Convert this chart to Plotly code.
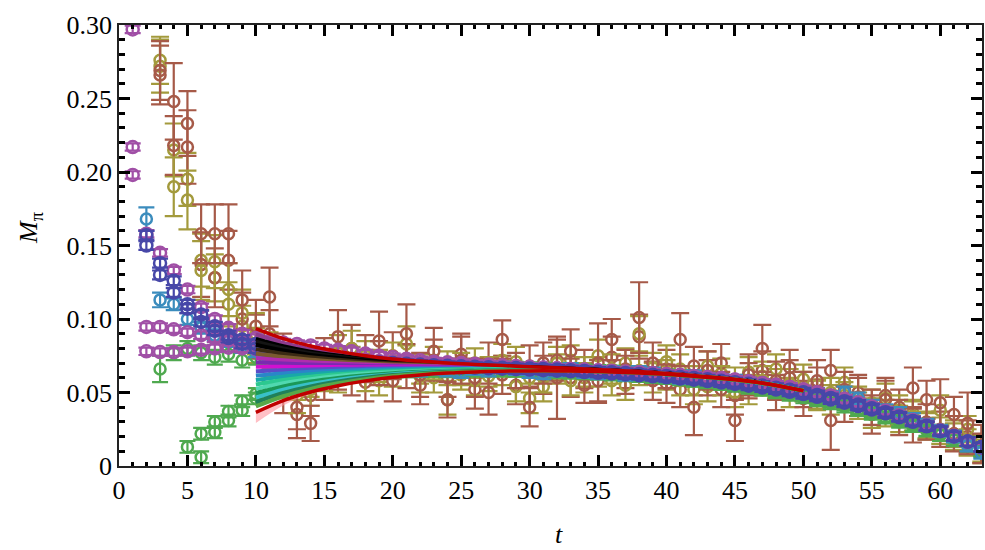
import plotly.graph_objects as go

# ---------------- effective mass data, M_pi(t) ----------------
# each series: first time slice, values, errors
mag_a_t0 = 1
mag_a_val = [0.297, 0.158, 0.145, 0.133, 0.120, 0.108, 0.100, 0.094, 0.090, 0.087,
             0.085, 0.084, 0.083, 0.082, 0.080, 0.079, 0.078, 0.0765, 0.075, 0.074,
             0.073, 0.072, 0.071, 0.0705, 0.070, 0.0695, 0.069, 0.0685, 0.068, 0.0675,
             0.067, 0.0665, 0.066, 0.0655, 0.065, 0.0645, 0.064, 0.0635, 0.063, 0.0624,
             0.0618, 0.0611, 0.0603, 0.0595, 0.0586, 0.0576, 0.0565, 0.0552, 0.0538, 0.0521,
             0.0502, 0.048, 0.0457, 0.0432, 0.0405, 0.0376, 0.0345, 0.0312, 0.0278, 0.0242,
             0.0205, 0.0166, 0.0127]
mag_a_err = 0.0025

mag_b_t0 = 1
mag_b_val = [0.217, 0.0946, 0.0946, 0.093, 0.091, 0.089, 0.087, 0.0855, 0.084, 0.082,
             0.080, 0.078, 0.0765, 0.075, 0.074, 0.073, 0.072, 0.0712, 0.0705, 0.070,
             0.0695, 0.069, 0.0688, 0.0685, 0.0682, 0.068, 0.0678, 0.0675, 0.0672, 0.067,
             0.0668, 0.0665, 0.066, 0.0656, 0.0652, 0.0648, 0.0643, 0.0638, 0.0632, 0.0626,
             0.062, 0.0613, 0.0605, 0.0598, 0.0588, 0.0577, 0.0565, 0.0552, 0.0537, 0.052,
             0.050, 0.0478, 0.0455, 0.043, 0.0403, 0.0374, 0.0343, 0.031, 0.0275, 0.024,
             0.0203, 0.0165, 0.0126]
mag_b_err = 0.0025

mag_c_t0 = 1
mag_c_val = [0.198, 0.078, 0.0775, 0.0775, 0.078, 0.079, 0.080, 0.0805, 0.080, 0.0795,
             0.079, 0.078, 0.077, 0.076, 0.075, 0.074, 0.073, 0.0722, 0.0715, 0.071,
             0.0705, 0.070, 0.0695, 0.069, 0.0686, 0.0682, 0.0678, 0.0674, 0.067, 0.0667,
             0.0664, 0.066, 0.0656, 0.0652, 0.0647, 0.0642, 0.0637, 0.0631, 0.0625, 0.0618,
             0.0611, 0.0603, 0.0595, 0.0586, 0.0576, 0.0565, 0.0553, 0.054, 0.0525, 0.0508,
             0.0489, 0.0468, 0.0446, 0.0422, 0.0396, 0.0368, 0.0338, 0.0306, 0.0273, 0.0238,
             0.0202, 0.0164, 0.0125]
mag_c_err = 0.0025

blue_a_t0 = 2
blue_a_val = [0.157, 0.138, 0.126, 0.110, 0.103, 0.095, 0.089, 0.086, 0.083,
              0.081, 0.079, 0.077, 0.0755, 0.074, 0.073, 0.072, 0.0712, 0.0705, 0.070,
              0.0695, 0.069, 0.0686, 0.0682, 0.0678, 0.0675, 0.0672, 0.0669, 0.0666, 0.0663,
              0.066, 0.0656, 0.0652, 0.0647, 0.0642, 0.0637, 0.0632, 0.0626, 0.062, 0.0613,
              0.0606, 0.0598, 0.059, 0.058, 0.057, 0.0559, 0.0547, 0.0533, 0.0518, 0.0501,
              0.0483, 0.0463, 0.0441, 0.0418, 0.0393, 0.0366, 0.0337, 0.0306, 0.0273, 0.0239,
              0.0203, 0.0166, 0.0128]
blue_a_err = 0.003

blue_b_t0 = 2
blue_b_val = [0.150, 0.130, 0.118, 0.107, 0.098, 0.092, 0.087, 0.083, 0.080,
              0.078, 0.076, 0.0745, 0.073, 0.072, 0.071, 0.0702, 0.0695, 0.069, 0.0686,
              0.0682, 0.0679, 0.0676, 0.0673, 0.067, 0.0668, 0.0665, 0.0662, 0.0659, 0.0656,
              0.0652, 0.0648, 0.0644, 0.0639, 0.0634, 0.0629, 0.0623, 0.0617, 0.061, 0.0603,
              0.0595, 0.0587, 0.0578, 0.0568, 0.0558, 0.0546, 0.0534, 0.052, 0.0505, 0.0489,
              0.0471, 0.0452, 0.0431, 0.0408, 0.0384, 0.0358, 0.0331, 0.0301, 0.027, 0.0237,
              0.0202, 0.0166, 0.0129]
blue_b_err = 0.003

teal_t0 = 2
teal_val = [0.168, 0.113, 0.110, 0.100, 0.094, 0.089, 0.085, 0.081, 0.078,
            0.076, 0.074, 0.072, 0.071, 0.070, 0.069, 0.068, 0.067, 0.067, 0.066,
            0.066, 0.065, 0.066, 0.065, 0.064, 0.066, 0.065, 0.067, 0.066, 0.064,
            0.063, 0.065, 0.066, 0.064, 0.063, 0.064, 0.062, 0.064, 0.063, 0.061,
            0.060, 0.061, 0.059, 0.058, 0.058, 0.056, 0.055, 0.053, 0.052, 0.050,
            0.049, 0.047, 0.050, 0.046, 0.041, 0.038, 0.036, 0.032, 0.028, 0.024,
            0.020, 0.014, 0.009]
teal_err = [0.008, 0.005] + [0.004] * 60

green_a_t0 = 3
green_a_val = [0.066, 0.077, 0.080, 0.077, 0.074, 0.076, 0.072, 0.074,
               0.071, 0.070, 0.069, 0.068, 0.068, 0.067, 0.0665, 0.066, 0.066, 0.0658,
               0.0655, 0.066, 0.0658, 0.0655, 0.0658, 0.066, 0.0662, 0.066, 0.0658, 0.0655,
               0.0652, 0.0648, 0.0645, 0.064, 0.0637, 0.0633, 0.0628, 0.0622, 0.0615, 0.0608,
               0.060, 0.0592, 0.0583, 0.0575, 0.0565, 0.0552, 0.054, 0.0525, 0.051, 0.0492,
               0.047, 0.045, 0.0428, 0.0403, 0.0378, 0.035, 0.032, 0.029, 0.0255, 0.022,
               0.0185, 0.015, 0.011]
green_a_err = [0.009] + [0.005] * 60

green_b_t0 = 5
green_b_val = [0.013, 0.022, 0.030, 0.037, 0.044, 0.049,
               0.053, 0.056, 0.058, 0.060, 0.0615, 0.0625, 0.063, 0.0635, 0.064, 0.0642,
               0.0645, 0.0647, 0.0648, 0.065, 0.065, 0.0651, 0.0651, 0.0651, 0.065, 0.0649,
               0.0647, 0.0644, 0.0641, 0.0637, 0.0632, 0.0627, 0.0621, 0.0614, 0.0607, 0.0599,
               0.059, 0.058, 0.057, 0.0558, 0.0546, 0.0533, 0.0518, 0.0502, 0.0485, 0.0467,
               0.0447, 0.0426, 0.0404, 0.038, 0.0355, 0.0329, 0.0301, 0.0272, 0.0242, 0.021,
               0.0177, 0.0143, 0.0108]
green_b_err = 0.004

green_c_t0 = 6
green_c_val = [0.006, 0.023, 0.031, 0.038, 0.046, 0.052, 0.055]
green_c_err = 0.004

brown_a_t0 = 3
brown_a_val = [0.269, 0.248, 0.233, 0.158, 0.158, 0.158, 0.113, 0.095, 0.115, 0.075,
               0.040, 0.029, 0.060, 0.088, 0.062, 0.073, 0.085, 0.058, 0.090, 0.062,
               0.078, 0.045, 0.072, 0.060, 0.050, 0.086, 0.065, 0.040, 0.070, 0.060,
               0.078, 0.055, 0.070, 0.086, 0.062, 0.101, 0.070, 0.056, 0.086, 0.040,
               0.065, 0.052, 0.031, 0.062, 0.080, 0.058, 0.067, 0.052, 0.058, 0.031,
               0.052, 0.047, 0.040, 0.045, 0.033, 0.053, 0.030, 0.043, 0.022, 0.029, 0.012]
brown_a_err = [0.020, 0.026, 0.022, 0.020, 0.020, 0.020, 0.020, 0.018, 0.020, 0.015,
               0.015, 0.012, 0.015, 0.018, 0.014, 0.016, 0.020, 0.014, 0.020, 0.015,
               0.016, 0.012, 0.016, 0.013, 0.015, 0.013, 0.012, 0.013, 0.014, 0.028,
               0.015, 0.012, 0.027, 0.014, 0.013, 0.024, 0.014, 0.013, 0.018, 0.019,
               0.013, 0.012, 0.014, 0.014, 0.016, 0.013, 0.012, 0.012, 0.014, 0.020,
               0.012, 0.013, 0.012, 0.013, 0.012, 0.014, 0.012, 0.016, 0.012, 0.021, 0.010]

brown_b_t0 = 3
brown_b_val = [0.266, 0.218, 0.217, 0.137, 0.128, 0.140, 0.100, 0.088, 0.090, 0.050,
               0.035, 0.048, 0.072, 0.066, 0.080, 0.057, 0.070, 0.075, 0.068, 0.055,
               0.072, 0.060, 0.076, 0.052, 0.070, 0.062, 0.055, 0.068, 0.062, 0.072,
               0.060, 0.066, 0.058, 0.074, 0.066, 0.088, 0.058, 0.066, 0.052, 0.068,
               0.060, 0.070, 0.048, 0.058, 0.065, 0.050, 0.060, 0.046, 0.055, 0.065,
               0.042, 0.050, 0.035, 0.048, 0.040, 0.028, 0.045, 0.025, 0.035, 0.020, 0.018]
brown_b_err = [0.020, 0.020, 0.025, 0.022, 0.020, 0.020, 0.018, 0.015, 0.016, 0.014,
               0.016, 0.014, 0.015, 0.014, 0.016, 0.013, 0.015, 0.016, 0.015, 0.013,
               0.014, 0.013, 0.014, 0.013, 0.014, 0.013, 0.013, 0.014, 0.013, 0.014,
               0.013, 0.013, 0.014, 0.014, 0.013, 0.015, 0.013, 0.013, 0.012, 0.013,
               0.012, 0.013, 0.013, 0.012, 0.013, 0.012, 0.012, 0.012, 0.012, 0.014,
               0.012, 0.012, 0.013, 0.012, 0.012, 0.012, 0.013, 0.012, 0.012, 0.011, 0.010]

olive_a_t0 = 3
olive_a_val = [0.276, 0.190, 0.181, 0.133, 0.139, 0.120, 0.104, 0.090, 0.078, 0.058,
               0.048, 0.052, 0.063, 0.077, 0.080, 0.062, 0.068, 0.072, 0.083, 0.061,
               0.070, 0.045, 0.066, 0.058, 0.064, 0.072, 0.054, 0.046, 0.060, 0.070,
               0.058, 0.064, 0.075, 0.066, 0.055, 0.090, 0.067, 0.071, 0.058, 0.052,
               0.068, 0.058, 0.050, 0.064, 0.058, 0.066, 0.056, 0.059, 0.048, 0.050,
               0.057, 0.044, 0.036, 0.046, 0.038, 0.034, 0.028, 0.038, 0.020, 0.025, 0.010]
olive_a_err = [0.016, 0.020, 0.020, 0.020, 0.018, 0.018, 0.016, 0.014, 0.013, 0.012,
               0.012, 0.011, 0.012, 0.012, 0.012, 0.011, 0.011, 0.012, 0.012, 0.011,
               0.011, 0.010, 0.011, 0.010, 0.010, 0.011, 0.010, 0.010, 0.010, 0.011,
               0.010, 0.010, 0.011, 0.010, 0.010, 0.012, 0.010, 0.011, 0.010, 0.010,
               0.010, 0.010, 0.010, 0.010, 0.010, 0.010, 0.010, 0.010, 0.010, 0.010,
               0.010, 0.010, 0.010, 0.010, 0.010, 0.010, 0.009, 0.010, 0.009, 0.009, 0.008]

olive_b_t0 = 3
olive_b_val = [0.272, 0.215, 0.195, 0.140, 0.128, 0.110, 0.095, 0.082, 0.072, 0.064,
               0.055, 0.057, 0.068, 0.060, 0.071, 0.075, 0.058, 0.064, 0.072, 0.066,
               0.060, 0.068, 0.062, 0.070, 0.061, 0.065, 0.071, 0.060, 0.054, 0.066,
               0.072, 0.060, 0.064, 0.058, 0.070, 0.065, 0.060, 0.062, 0.066, 0.058,
               0.054, 0.063, 0.057, 0.052, 0.061, 0.056, 0.050, 0.054, 0.049, 0.045,
               0.048, 0.041, 0.043, 0.036, 0.032, 0.036, 0.027, 0.024, 0.022, 0.016, 0.012]
olive_b_err = [0.018, 0.018, 0.018, 0.018, 0.016, 0.015, 0.014, 0.012, 0.011, 0.011] + [0.010] * 40 + [0.009] * 11

# ---------------- fit curves, t = 10 ... 50 ----------------
fan_t = [10, 12, 14, 16, 18, 20, 22, 24, 26, 28, 30, 32, 34, 36, 38, 40, 42, 44, 46, 48, 50]
fan_center = [0.0665, 0.0667, 0.0668, 0.0669, 0.0669, 0.0669, 0.0669, 0.0668, 0.0667, 0.0665,
              0.0662, 0.0658, 0.0653, 0.0646, 0.0638, 0.0627, 0.0613, 0.0597, 0.0577, 0.0549, 0.0512]
# excited-state contamination shape (relative to its value at t = 10)
fan_decay = [1.0, 0.74, 0.55, 0.41, 0.30, 0.22, 0.165, 0.12, 0.09, 0.067,
             0.05, 0.037, 0.027, 0.02, 0.015, 0.011, 0.008, 0.006, 0.0045, 0.003, 0.002]
fan_amp = [0.023, 0.020, 0.018, 0.016, 0.013, 0.010, 0.007, 0.004, 0.001,
           -0.002, -0.005, -0.008, -0.011, -0.014, -0.017, -0.020, -0.023, -0.026]
fan_colors = ["#8e3c8e", "#000000", "#141414", "#000000", "#3a2a14", "#7a5a30", "#b02cb0",
              "#7a2ab0", "#d010d0", "#5a4cc8", "#2a86c8", "#18a8a8", "#2cc890", "#50d8b0",
              "#1a9858", "#38c0c8", "#20805a", "#58a848"]
edge_amp = [0.027, -0.030]
edge_color = "#c00000"
# uncertainty band under the lower edge curve
band_t = [10, 12, 14, 16]
band_amp = -0.037
band_decay = [1.0, 0.45, 0.15, 0.0]

# ---------------- axes ----------------
x_ticks = [0, 5, 10, 15, 20, 25, 30, 35, 40, 45, 50, 55, 60]
y_ticks = [0, 0.05, 0.10, 0.15, 0.20, 0.25, 0.30]
y_labels = ["0", "0.05", "0.10", "0.15", "0.20", "0.25", "0.30"]

C_MAG = "#a04fa6"
C_BLUE = "#4747a8"
C_TEAL = "#3b8cbd"
C_GREEN = "#4fa94f"
C_OLIVE = "#a39a3c"
C_BROWN = "#a65a48"

fig = go.Figure()


def add_series(t0, vals, errs, color, cap, size):
    ts = list(range(t0, t0 + len(vals)))
    if not isinstance(errs, list):
        errs = [errs] * len(vals)
    fig.add_trace(go.Scatter(
        x=ts, y=vals, mode="markers",
        marker=dict(symbol="circle-open", size=size, color=color, line=dict(width=2.5, color=color)),
        error_y=dict(type="data", array=errs, visible=True, color=color, thickness=2.2, width=cap),
        showlegend=False, hoverinfo="skip"))


add_series(olive_b_t0, olive_b_val, olive_b_err, C_OLIVE, 9, 11)
add_series(brown_b_t0, brown_b_val, brown_b_err, C_BROWN, 9, 11)
add_series(olive_a_t0, olive_a_val, olive_a_err, C_OLIVE, 9, 11)
add_series(brown_a_t0, brown_a_val, brown_a_err, C_BROWN, 9, 11)
add_series(green_c_t0, green_c_val, green_c_err, C_GREEN, 8, 11)
add_series(green_b_t0, green_b_val, green_b_err, C_GREEN, 8, 11)
add_series(green_a_t0, green_a_val, green_a_err, C_GREEN, 8, 11)
add_series(teal_t0, teal_val, teal_err, C_TEAL, 8, 11)
add_series(mag_c_t0, mag_c_val, mag_c_err, C_MAG, 8, 12)
add_series(mag_b_t0, mag_b_val, mag_b_err, C_MAG, 8, 12)
add_series(mag_a_t0, mag_a_val, mag_a_err, C_MAG, 8, 12)
add_series(blue_b_t0, blue_b_val, blue_b_err, C_BLUE, 8, 12)
add_series(blue_a_t0, blue_a_val, blue_a_err, C_BLUE, 8, 12)

# pink error band below the lower edge curve
band_top = [c + edge_amp[1] * d for c, d in zip(fan_center, fan_decay[:len(band_t)])]
band_bot = [top + (band_amp - edge_amp[1]) * b for top, b in zip(band_top, band_decay)]
fig.add_trace(go.Scatter(x=band_t, y=band_top, mode="lines",
                         line=dict(width=0.5, color="rgba(255,150,160,0.6)", shape="spline"),
                         showlegend=False, hoverinfo="skip"))
fig.add_trace(go.Scatter(x=band_t, y=band_bot, mode="lines",
                         line=dict(width=0.5, color="rgba(255,150,160,0.6)", shape="spline"),
                         fill="tonexty", fillcolor="rgba(255,150,160,0.6)",
                         showlegend=False, hoverinfo="skip"))

# fan of fit curves
for amp, col in zip(fan_amp, fan_colors):
    ys = [c + amp * d for c, d in zip(fan_center, fan_decay)]
    fig.add_trace(go.Scatter(x=fan_t, y=ys, mode="lines",
                             line=dict(color=col, width=4, shape="spline"),
                             showlegend=False, hoverinfo="skip"))
for amp in edge_amp:
    ys = [c + amp * d for c, d in zip(fan_center, fan_decay)]
    fig.add_trace(go.Scatter(x=fan_t, y=ys, mode="lines",
                             line=dict(color=edge_color, width=3.5, shape="spline"),
                             showlegend=False, hoverinfo="skip"))

FONT = "Times New Roman, Liberation Serif, DejaVu Serif, serif"
axis_common = dict(showline=True, linecolor="#222222", linewidth=1.5, mirror="ticks",
                   ticks="inside", ticklen=11, tickwidth=2.5, tickcolor="black",
                   showgrid=False, zeroline=False,
                   tickfont=dict(family=FONT, size=26, color="black"))

fig.update_xaxes(range=[0, 63.05], tickmode="array", tickvals=x_ticks,
                 ticktext=[str(v) for v in x_ticks],
                 minor=dict(ticks="inside", ticklen=4, tickwidth=2.5, tickcolor="black",
                            tickvals=[v for v in range(0, 64) if v % 5 != 0], showgrid=False),
                 **axis_common)
fig.update_yaxes(range=[0, 0.30], tickmode="array", tickvals=y_ticks, ticktext=y_labels,
                 minor=dict(ticks="inside", ticklen=6, tickwidth=2.5, tickcolor="black",
                            tickvals=[k / 100 for k in range(1, 30) if k % 5 != 0], showgrid=False),
                 **axis_common)

fig.update_layout(
    width=985, height=550,
    margin=dict(l=119, r=1, t=25, b=84),
    paper_bgcolor="white", plot_bgcolor="white",
    annotations=[
        dict(text="<i>M</i><sub>π</sub>", xref="paper", yref="paper", x=-0.103, y=0.54,
             showarrow=False, textangle=-90, xanchor="center", yanchor="middle",
             font=dict(family=FONT, size=26, color="black")),
        dict(text="<i>t</i>", xref="paper", yref="paper", x=0.51, y=-0.155,
             showarrow=False, xanchor="center", yanchor="middle",
             font=dict(family=FONT, size=26, color="black")),
    ],
)

fig.write_html("out.html")
